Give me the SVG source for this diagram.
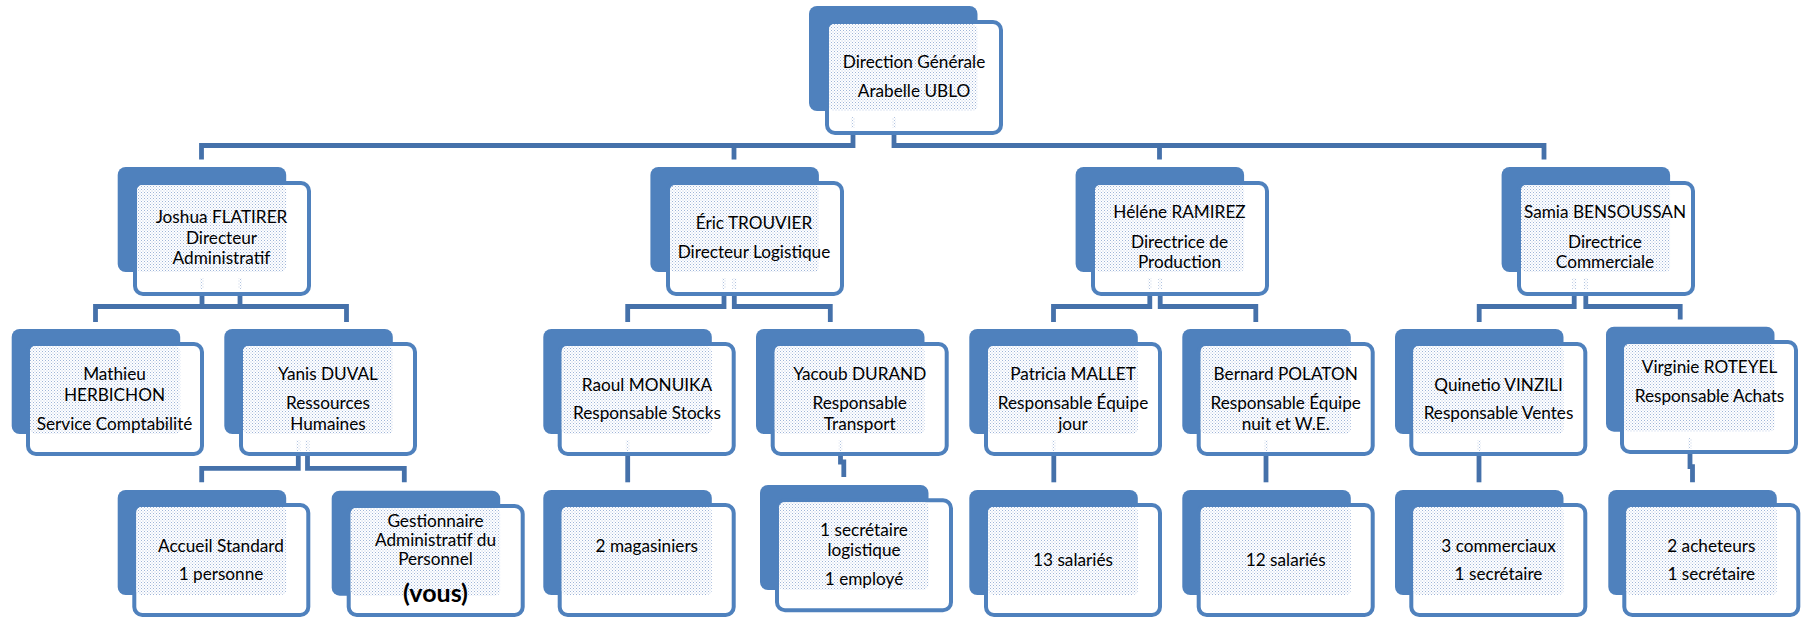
<svg xmlns="http://www.w3.org/2000/svg" width="1803" height="617" viewBox="0 0 1803 617">
<defs>
<pattern id="dots" width="3" height="3" patternUnits="userSpaceOnUse">
<rect width="3" height="3" fill="#ffffff"/>
<rect x="0" y="0" width="1" height="1" fill="#9fb5d8"/>
<rect x="1.5" y="1.5" width="1" height="1" fill="#b9c9e3"/>
</pattern>
<style>
.dk{fill:#4F81BD}
.fr{fill:#ffffff;stroke:#4F81BD;stroke-width:4}
.dt{fill:url(#dots)}
.mk{fill:url(#dots);opacity:0.8}
.t{font-family:Lato,"Liberation Sans",sans-serif;font-size:17.2px;fill:#000;text-anchor:middle}
.b{font-weight:bold;font-size:25px}
.cn{fill:none;stroke:#4571AA;stroke-width:4.8}
</style>
</defs>
<rect width="1803" height="617" fill="#ffffff"/>

<g id="connectors">
<path class="cn" d="M853,133 V145.5 H201.5 V159.5"/>
<path class="cn" d="M853,145.5 H734 V159.5"/>
<path class="cn" d="M894,133 V145.5 H1159.5 V159.5"/>
<path class="cn" d="M1159.5,145.5 H1544 V159.5"/>
<path class="cn" d="M202,293 V306.5 H95.5 V322"/>
<path class="cn" d="M240,293 V306.5 H346.5 V322 M202,306.5 H240"/>
<path class="cn" d="M724,293 V306.5 H627.7 V322"/>
<path class="cn" d="M734.3,293 V306.5 H830.3 V322"/>
<path class="cn" d="M1149.8,293 V306.5 H1053.5 V322"/>
<path class="cn" d="M1160.2,293 V306.5 H1255.8 V322"/>
<path class="cn" d="M1574.2,293 V306.5 H1479.2 V322"/>
<path class="cn" d="M1585.8,293 V306.5 H1680.2 V319.5"/>
<path class="cn" d="M298.3,454 V468.3 H201.7 V482.3"/>
<path class="cn" d="M307.5,454 V468.3 H404.3 V482.3"/>
<path class="cn" d="M627.7,454 V482.3"/>
<path class="cn" d="M840.5,454 V462 H843.8 V477"/>
<path class="cn" d="M1053.8,454 V482.3"/>
<path class="cn" d="M1266,454 V482.3"/>
<path class="cn" d="M1479,454 V482.3"/>
<path class="cn" d="M1690,452 V466.7 H1692.5 V482.3"/>
</g>

<g id="n-top">
<rect class="dk" x="809" y="6" width="168.5" height="105" rx="8"/>
<rect class="fr" x="827" y="22" width="174" height="111" rx="8"/>
<rect class="dt" x="829" y="24" width="148.5" height="87" rx="5"/>
<rect class="mk" x="851" y="117" width="4" height="11"/>
<rect class="mk" x="892" y="117" width="4" height="11"/>
<text class="t" x="914" y="68.3">Direction Générale</text>
<text class="t" x="914" y="96.7">Arabelle UBLO</text>
</g>

<g id="n-joshua">
<rect class="dk" x="117.7" y="167" width="168.5" height="105" rx="8"/>
<rect class="fr" x="135" y="183" width="174" height="111" rx="8"/>
<rect class="dt" x="137" y="185" width="149.2" height="87" rx="5"/>
<rect class="mk" x="200" y="278" width="4" height="11"/>
<rect class="mk" x="238" y="278" width="4" height="11"/>
<text class="t" x="221.5" y="222.7">Joshua FLATIRER</text>
<text class="t" x="221.5" y="244.3">Directeur</text>
<text class="t" x="221.5" y="264.3">Administratif</text>
</g>

<g id="n-eric">
<rect class="dk" x="650.4" y="167" width="168.5" height="105" rx="8"/>
<rect class="fr" x="668" y="183" width="174" height="111" rx="8"/>
<rect class="dt" x="670" y="185" width="148.9" height="87" rx="5"/>
<rect class="mk" x="722" y="278" width="4" height="11"/>
<rect class="mk" x="732.3" y="278" width="4" height="11"/>
<text class="t" x="754" y="229.3">Éric TROUVIER</text>
<text class="t" x="754" y="257.7">Directeur Logistique</text>
</g>

<g id="n-helene">
<rect class="dk" x="1075.6" y="167" width="168.5" height="105" rx="8"/>
<rect class="fr" x="1093" y="183" width="174" height="111" rx="8"/>
<rect class="dt" x="1095" y="185" width="149.1" height="87" rx="5"/>
<rect class="mk" x="1147.8" y="278" width="4" height="11"/>
<rect class="mk" x="1158.2" y="278" width="4" height="11"/>
<text class="t" x="1179.5" y="218.3">Héléne RAMIREZ</text>
<text class="t" x="1179.5" y="248.3">Directrice de</text>
<text class="t" x="1179.5" y="267.7">Production</text>
</g>

<g id="n-samia">
<rect class="dk" x="1501.6" y="167" width="168.5" height="105" rx="8"/>
<rect class="fr" x="1519" y="183" width="174" height="111" rx="8"/>
<rect class="dt" x="1521" y="185" width="149.1" height="87" rx="5"/>
<rect class="mk" x="1572.2" y="278" width="4" height="11"/>
<rect class="mk" x="1583.8" y="278" width="4" height="11"/>
<text class="t" x="1605" y="218.3">Samia BENSOUSSAN</text>
<text class="t" x="1605" y="248.3">Directrice</text>
<text class="t" x="1605" y="267.7">Commerciale</text>
</g>

<g id="n-mathieu">
<rect class="dk" x="11.7" y="329" width="168.5" height="105" rx="8"/>
<rect class="fr" x="28" y="344" width="174" height="110" rx="8"/>
<rect class="dt" x="30" y="346" width="150.2" height="88" rx="5"/>
<text class="t" x="114.5" y="380">Mathieu</text>
<text class="t" x="114.5" y="401">HERBICHON</text>
<text class="t" x="114.5" y="430">Service Comptabilité</text>
</g>

<g id="n-yanis">
<rect class="dk" x="224.3" y="329" width="168.5" height="105" rx="8"/>
<rect class="fr" x="241" y="344" width="174" height="110" rx="8"/>
<rect class="dt" x="243" y="346" width="149.8" height="88" rx="5"/>
<rect class="mk" x="296.3" y="440" width="4" height="11"/>
<rect class="mk" x="305.5" y="440" width="4" height="11"/>
<text class="t" x="328" y="380">Yanis DUVAL</text>
<text class="t" x="328" y="409">Ressources</text>
<text class="t" x="328" y="430">Humaines</text>
</g>

<g id="n-raoul">
<rect class="dk" x="543.3" y="329" width="168.5" height="105" rx="8"/>
<rect class="fr" x="559.7" y="344" width="174" height="110" rx="8"/>
<rect class="dt" x="561.7" y="346" width="150.1" height="88" rx="5"/>
<rect class="mk" x="625.7" y="440" width="4" height="11"/>
<text class="t" x="647" y="391">Raoul MONUIKA</text>
<text class="t" x="647" y="419">Responsable Stocks</text>
</g>

<g id="n-yacoub">
<rect class="dk" x="756" y="329" width="168.5" height="105" rx="8"/>
<rect class="fr" x="772.7" y="344" width="174" height="110" rx="8"/>
<rect class="dt" x="774.7" y="346" width="149.8" height="88" rx="5"/>
<rect class="mk" x="838.5" y="440" width="4" height="11"/>
<text class="t" x="859.7" y="380">Yacoub DURAND</text>
<text class="t" x="859.7" y="409">Responsable</text>
<text class="t" x="859.7" y="430">Transport</text>
</g>

<g id="n-patricia">
<rect class="dk" x="969.3" y="329" width="168.5" height="105" rx="8"/>
<rect class="fr" x="986" y="344" width="174" height="110" rx="8"/>
<rect class="dt" x="988" y="346" width="149.8" height="88" rx="5"/>
<rect class="mk" x="1051.8" y="440" width="4" height="11"/>
<text class="t" x="1073" y="380">Patricia MALLET</text>
<text class="t" x="1073" y="409">Responsable Équipe</text>
<text class="t" x="1073" y="430">jour</text>
</g>

<g id="n-bernard">
<rect class="dk" x="1182.3" y="329" width="168.5" height="105" rx="8"/>
<rect class="fr" x="1198.7" y="344" width="174" height="110" rx="8"/>
<rect class="dt" x="1200.7" y="346" width="150.1" height="88" rx="5"/>
<rect class="mk" x="1264" y="440" width="4" height="11"/>
<text class="t" x="1285.7" y="380">Bernard POLATON</text>
<text class="t" x="1285.7" y="409">Responsable Équipe</text>
<text class="t" x="1285.7" y="430">nuit et W.E.</text>
</g>

<g id="n-quinetio">
<rect class="dk" x="1395" y="329" width="168.5" height="105" rx="8"/>
<rect class="fr" x="1411.3" y="344" width="174" height="110" rx="8"/>
<rect class="dt" x="1413.3" y="346" width="150.2" height="88" rx="5"/>
<rect class="mk" x="1477" y="440" width="4" height="11"/>
<text class="t" x="1498.5" y="391">Quinetio VINZILI</text>
<text class="t" x="1498.5" y="419">Responsable Ventes</text>
</g>

<g id="n-virginie">
<rect class="dk" x="1606" y="326.7" width="168.5" height="105" rx="8"/>
<rect class="fr" x="1622" y="342" width="174" height="110" rx="8"/>
<rect class="dt" x="1624" y="344" width="150.5" height="87.7" rx="5"/>
<rect class="mk" x="1688" y="438" width="4" height="11"/>
<text class="t" x="1709.5" y="373.3">Virginie ROTEYEL</text>
<text class="t" x="1709.5" y="402.3">Responsable Achats</text>
</g>

<g id="n-accueil">
<rect class="dk" x="117.7" y="490" width="168.5" height="105" rx="8"/>
<rect class="fr" x="134.3" y="505" width="174" height="110" rx="8"/>
<rect class="dt" x="136.3" y="507" width="149.9" height="88" rx="5"/>
<text class="t" x="221" y="551.7">Accueil Standard</text>
<text class="t" x="221" y="580">1 personne</text>
</g>

<g id="n-gestionnaire">
<rect class="dk" x="331.7" y="490.7" width="168.5" height="105" rx="8"/>
<rect class="fr" x="348.7" y="506" width="174" height="109" rx="8"/>
<rect class="dt" x="350.7" y="508" width="149.5" height="87.7" rx="5"/>
<text class="t" x="435.5" y="526.7">Gestionnaire</text>
<text class="t" x="435.5" y="545.7">Administratif du</text>
<text class="t" x="435.5" y="565">Personnel</text>
<text class="t b" x="435.5" y="601.7">(vous)</text>
</g>

<g id="n-magasiniers">
<rect class="dk" x="543.3" y="490" width="168.5" height="105" rx="8"/>
<rect class="fr" x="559.7" y="505" width="174" height="110" rx="8"/>
<rect class="dt" x="561.7" y="507" width="150.1" height="88" rx="5"/>
<text class="t" x="646.8" y="551.7">2 magasiniers</text>
</g>

<g id="n-secretaire">
<rect class="dk" x="760" y="485" width="168.5" height="105" rx="8"/>
<rect class="fr" x="777" y="500.3" width="174" height="110" rx="8"/>
<rect class="dt" x="779" y="502.3" width="149.5" height="87.7" rx="5"/>
<text class="t" x="864" y="535.7">1 secrétaire</text>
<text class="t" x="864" y="556">logistique</text>
<text class="t" x="864" y="585">1 employé</text>
</g>

<g id="n-salaries13">
<rect class="dk" x="969.3" y="490" width="168.5" height="105" rx="8"/>
<rect class="fr" x="986" y="505" width="174" height="110" rx="8"/>
<rect class="dt" x="988" y="507" width="149.8" height="88" rx="5"/>
<text class="t" x="1073" y="565.7">13 salariés</text>
</g>

<g id="n-salaries12">
<rect class="dk" x="1182.3" y="490" width="168.5" height="105" rx="8"/>
<rect class="fr" x="1198.7" y="505" width="174" height="110" rx="8"/>
<rect class="dt" x="1200.7" y="507" width="150.1" height="88" rx="5"/>
<text class="t" x="1285.7" y="565.7">12 salariés</text>
</g>

<g id="n-commerciaux">
<rect class="dk" x="1395" y="490" width="168.5" height="105" rx="8"/>
<rect class="fr" x="1411.3" y="505" width="174" height="110" rx="8"/>
<rect class="dt" x="1413.3" y="507" width="150.2" height="88" rx="5"/>
<text class="t" x="1498.5" y="551.7">3 commerciaux</text>
<text class="t" x="1498.5" y="580">1 secrétaire</text>
</g>

<g id="n-acheteurs">
<rect class="dk" x="1608.3" y="490" width="168.5" height="105" rx="8"/>
<rect class="fr" x="1624.3" y="505" width="174" height="110" rx="8"/>
<rect class="dt" x="1626.3" y="507" width="150.5" height="88" rx="5"/>
<text class="t" x="1711.3" y="551.7">2 acheteurs</text>
<text class="t" x="1711.3" y="580">1 secrétaire</text>
</g>
</svg>
